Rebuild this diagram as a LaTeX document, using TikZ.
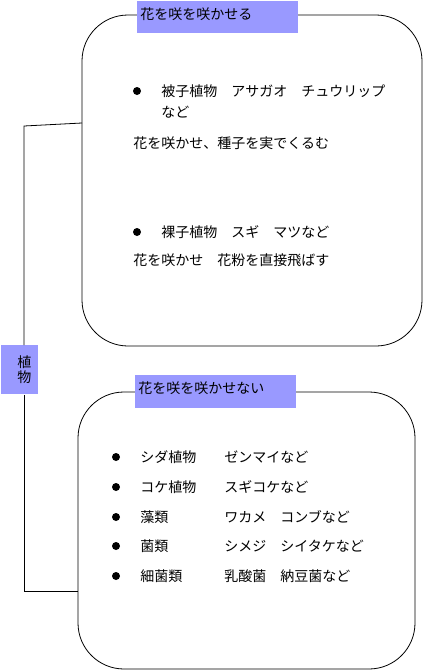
\documentclass[tikz,border=0pt]{standalone}
\usepackage{fontspec}
\setmainfont{Noto Sans CJK JP}
\usetikzlibrary{positioning}
\definecolor{tagblue}{RGB}{153,153,255}
\begin{document}
\begin{tikzpicture}[x=1pt,y=-1pt,line width=0.8pt,font=\fontsize{14}{15}\selectfont]
\tikzstyle{group}=[draw=black,rounded corners=46pt,inner sep=0pt]
\tikzstyle{tag}=[fill=tagblue,anchor=north west,inner xsep=3pt,inner ysep=0pt,align=left]
\tikzstyle{raised}=[text height=11pt,text depth=7pt]
\tikzstyle{item}=[anchor=west,inner sep=0pt]
\tikzstyle{dot}=[circle,fill=black,inner sep=0pt,minimum size=8pt]
\useasboundingbox (0,0) rectangle (447,670);
\node[group,minimum width=340pt,minimum height=331pt] (bloom) at (252,180.5) {};
\node[group,minimum width=337pt,minimum height=277pt] (nobloom) at (246.5,530.5) {};
\node[tag,raised,text width=155pt,minimum height=32pt] (bloomtag) at (137,1) {花を咲を咲かせる};
\node[tag,raised,text width=155pt,minimum height=33pt] (nobloomtag) at (135,375) {花を咲を咲かせない};
\node[tag,inner xsep=0pt,text width=37pt,minimum height=49pt,align=center]
  (plant) at (1,345) {\hspace*{9pt}植\\\hspace*{9pt}物};
% flowering plants
\node[dot] (d1) at (137,91) {};
\node[item] (angio) at (161,91) {被子植物　アサガオ　チュウリップ};
\node[item] (angio2) at (161,112) {など};
\node[item] (angio3) at (133,143) {花を咲かせ、種子を実でくるむ};
\node[dot] (d2) at (137,232) {};
\node[item] (gymno) at (161,232) {裸子植物　スギ　マツなど};
\node[item] (gymno2) at (133,260) {花を咲かせ　花粉を直接飛ばす};
% non-flowering plants
\foreach \y/\a/\b [count=\i] in {457/シダ植物/ゼンマイなど,487/コケ植物/スギコケなど,
    517/藻類/ワカメ　コンブなど,546/菌類/シメジ　シイタケなど,576/細菌類/乳酸菌　納豆菌など}{
  \node[dot] (n\i) at (116,\y) {};
  \node[item] (k\i) at (140,\y) {\a};
  \node[item] (e\i) at (224,\y) {\b};
}
\coordinate (j1) at (82,123);
\coordinate (j2) at (24,126);
\coordinate (j3) at (78,591);
\draw (j1) -- (j2) -- (j2 |- plant.north);
\draw (j2 |- plant.south) |- (j3);
\end{tikzpicture}
\end{document}
